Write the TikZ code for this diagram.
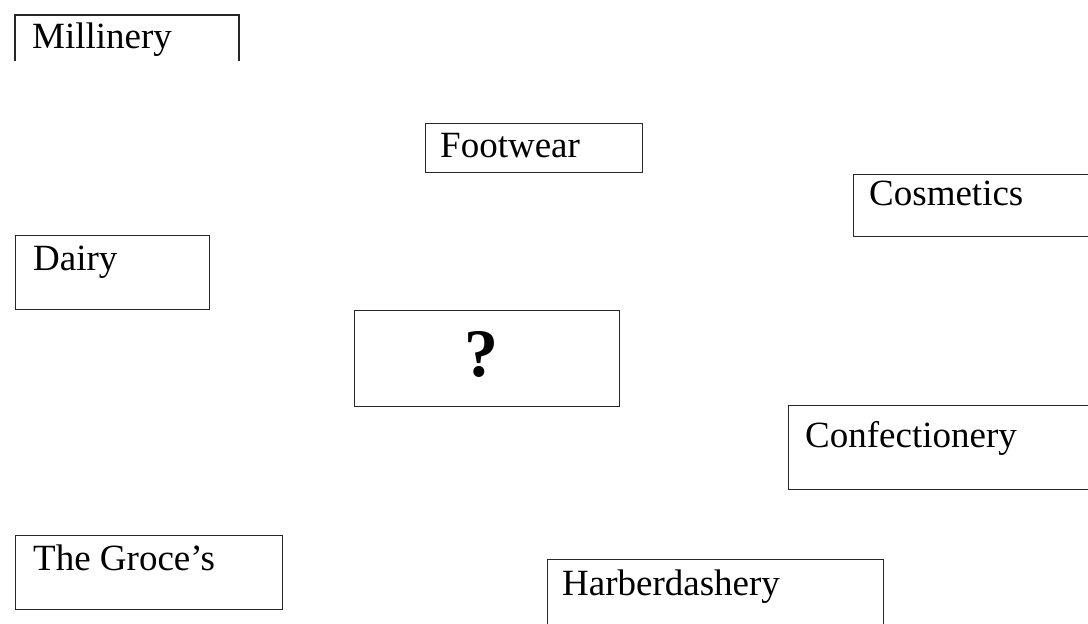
\documentclass[tikz,border=0pt]{standalone}
\usepackage{fontspec}
\setmainfont{Liberation Serif}
\begin{document}
\begin{tikzpicture}[x=1pt,y=1pt,
  frame/.style={draw=black!85,line width=1.1pt},
  lbl/.style={anchor=base west,inner sep=0pt,font=\fontsize{37}{44}\selectfont},
  qlbl/.style={anchor=base,inner sep=0pt,font=\fontsize{68}{80}\selectfont\bfseries}]
\useasboundingbox (0,0) rectangle (1088,-624);
\clip (0,0) rectangle (1088,-624);
% Millinery (bottom edge not shown)
\coordinate (m1) at (15,-61);
\coordinate (m2) at (15,-15);
\coordinate (m3) at (239,-15);
\coordinate (m4) at (239,-61);
\draw[frame] (m1) -- (m2) -- (m3) -- (m4);
\node[lbl] (tmill) at (32,-48) {Millinery};
% Footwear
\node[frame,inner sep=0pt,minimum width=217pt,minimum height=49pt,anchor=north west] (bfoot) at (425,-123) {};
\node[lbl] (tfoot) at (440,-157) {Footwear};
% Cosmetics
\node[frame,inner sep=0pt,minimum width=260pt,minimum height=62pt,anchor=north west] (bcos) at (853,-174) {};
\node[lbl] (tcos) at (869,-205) {Cosmetics};
% Dairy
\node[frame,inner sep=0pt,minimum width=194pt,minimum height=74pt,anchor=north west] (bdairy) at (15,-235) {};
\node[lbl] (tdairy) at (33,-270) {Dairy};
% Question
\node[frame,inner sep=0pt,minimum width=265pt,minimum height=96pt,anchor=north west] (bq) at (354,-310) {};
\node[qlbl] (tq) at (481,-376) {?};
% Confectionery
\node[frame,inner sep=0pt,minimum width=330pt,minimum height=84pt,anchor=north west] (bconf) at (788,-405) {};
\node[lbl] (tconf) at (805,-447) {Confectionery};
% The Groce's
\node[frame,inner sep=0pt,minimum width=267pt,minimum height=74pt,anchor=north west] (bgroc) at (15,-535) {};
\node[lbl] (tgroc) at (33,-570) {The Groce’s};
% Harberdashery
\node[frame,inner sep=0pt,minimum width=336pt,minimum height=90pt,anchor=north west] (bharb) at (547,-559) {};
\node[lbl] (tharb) at (562,-595) {Harberdashery};
\end{tikzpicture}
\end{document}
